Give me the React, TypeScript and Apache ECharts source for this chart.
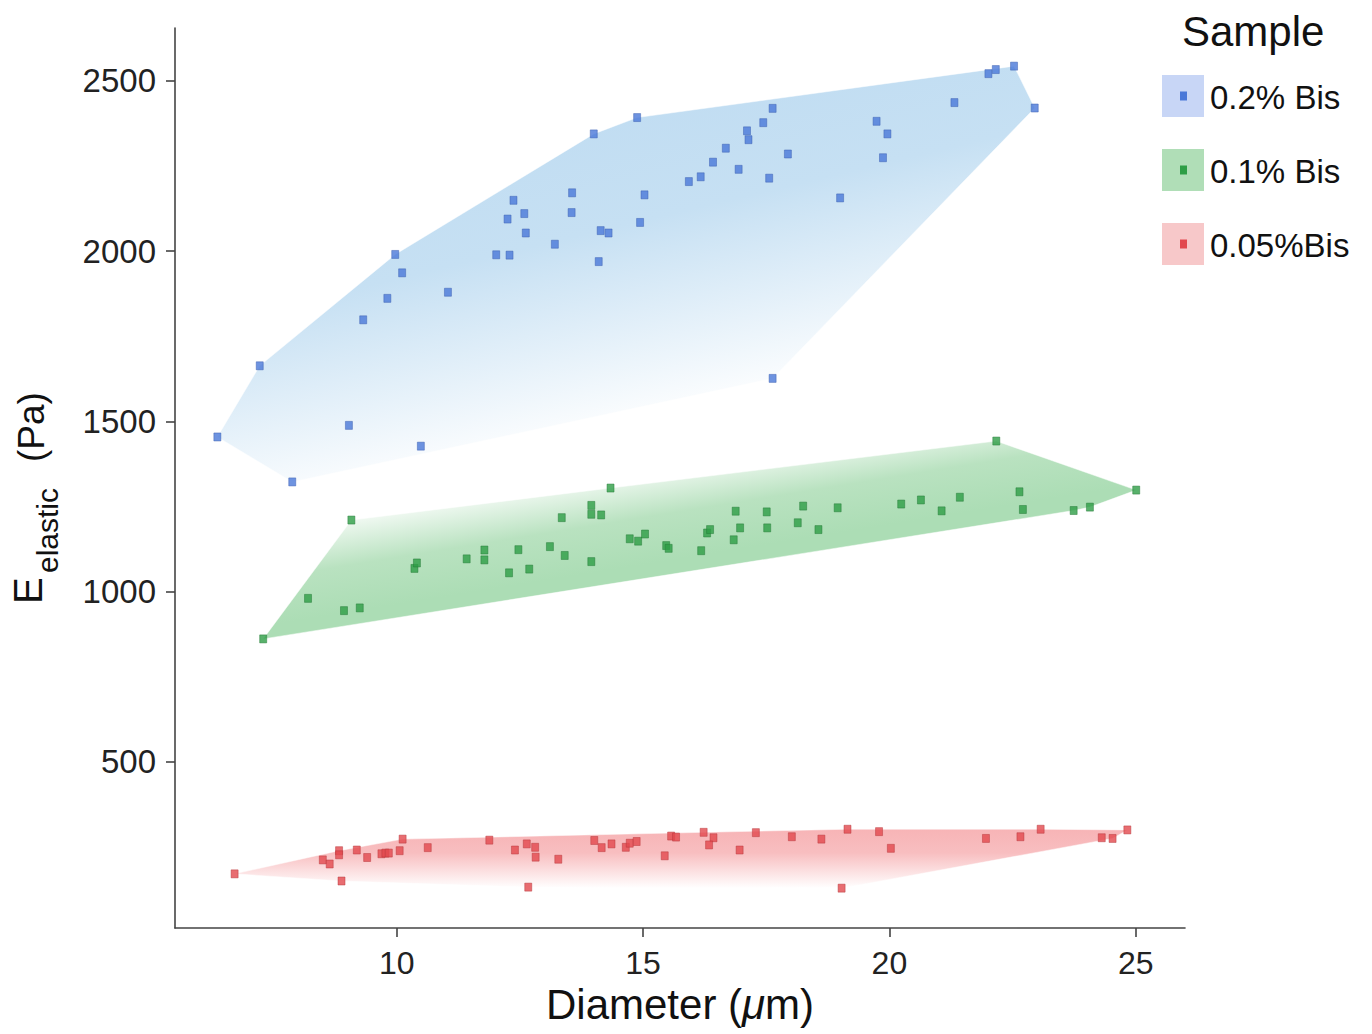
import React, { useEffect, useRef } from "react";
import * as echarts from "echarts";

// ---- data (Diameter µm, E elastic Pa) ----
const bis02: number[][] = [
  [6.36, 1454], [7.22, 1663], [7.88, 1322], [9.03, 1488], [10.49, 1427], [9.32, 1798],
  [9.81, 1861], [10.11, 1936], [9.97, 1990], [11.04, 1879], [12.02, 1989], [12.29, 1988],
  [12.25, 2094], [12.37, 2149], [12.59, 2110], [12.62, 2053], [13.21, 2020], [13.56, 2171],
  [13.55, 2113], [14.0, 2344], [14.1, 1969], [14.14, 2060], [14.3, 2053], [14.88, 2392],
  [15.03, 2165], [14.94, 2084], [15.93, 2204], [16.17, 2218], [16.42, 2261], [16.68, 2302],
  [16.94, 2240], [17.11, 2353], [17.14, 2327], [17.44, 2377], [17.63, 2419], [17.56, 2214],
  [17.94, 2285], [19.0, 2156], [19.74, 2381], [19.96, 2344], [19.87, 2274], [21.32, 2436],
  [22.01, 2521], [22.16, 2533], [22.53, 2543], [22.95, 2420], [17.63, 1626],
];
const bis01: number[][] = [
  [9.08, 1210], [7.29, 861], [8.2, 980], [8.93, 944], [9.25, 952], [10.36, 1068],
  [10.41, 1084], [11.42, 1096], [11.78, 1122], [11.78, 1093], [12.28, 1055], [12.69, 1066],
  [12.47, 1123], [13.11, 1132], [13.41, 1106], [13.35, 1217], [13.95, 1253], [13.95, 1227],
  [14.15, 1225], [14.34, 1304], [13.95, 1088], [14.73, 1155], [14.9, 1148], [15.04, 1169],
  [15.47, 1135], [15.52, 1127], [22.17, 1442], [25.01, 1298], [16.18, 1120], [16.3, 1172],
  [16.36, 1182], [16.84, 1152], [16.88, 1236], [16.97, 1187], [17.51, 1234], [17.52, 1187],
  [18.14, 1202], [18.25, 1251], [18.56, 1182], [18.95, 1246], [20.24, 1257], [20.64, 1269],
  [21.06, 1237], [21.43, 1277], [22.64, 1293], [22.71, 1241], [23.74, 1238], [24.07, 1248],
];
const bis005: number[][] = [
  [6.71, 171], [8.5, 212], [8.64, 200], [8.83, 239], [8.83, 227], [8.88, 150],
  [9.19, 241], [9.4, 219], [9.69, 230], [9.77, 232], [9.84, 232], [10.06, 239],
  [10.12, 273], [10.63, 248], [11.88, 270], [12.4, 241], [12.64, 259], [12.81, 249],
  [12.82, 220], [12.67, 132], [13.28, 214], [14.01, 269], [14.16, 248], [14.36, 259],
  [14.65, 249], [14.73, 261], [14.87, 266], [15.44, 224], [15.57, 282], [15.67, 279],
  [16.23, 293], [16.43, 277], [16.34, 256], [16.96, 241], [17.29, 292], [18.02, 280],
  [18.62, 273], [19.15, 302], [19.03, 129], [19.79, 295], [20.03, 246], [21.96, 275],
  [22.66, 280], [23.07, 302], [24.31, 277], [24.53, 275], [24.83, 300],
];
const seriesNames = ["0.2% Bis", "0.1% Bis", "0.05%Bis"];
const xTicks = [10, 15, 20, 25];
const yTicks = [500, 1000, 1500, 2000, 2500];

const FONT = "'Liberation Sans', Arial, Helvetica, sans-serif";

function convexHull(pts: number[][]): number[][] {
  const p = pts.map((d) => [d[0], d[1]]).sort((a, b) => a[0] - b[0] || a[1] - b[1]);
  const cross = (o: number[], a: number[], b: number[]) =>
    (a[0] - o[0]) * (b[1] - o[1]) - (a[1] - o[1]) * (b[0] - o[0]);
  const lower: number[][] = [];
  for (const q of p) {
    while (lower.length >= 2 && cross(lower[lower.length - 2], lower[lower.length - 1], q) <= 0) lower.pop();
    lower.push(q);
  }
  const upper: number[][] = [];
  for (let i = p.length - 1; i >= 0; i--) {
    const q = p[i];
    while (upper.length >= 2 && cross(upper[upper.length - 2], upper[upper.length - 1], q) <= 0) upper.pop();
    upper.push(q);
  }
  upper.pop();
  lower.pop();
  return lower.concat(upper);
}

export default function App() {
  const ref = useRef<HTMLDivElement>(null);
  useEffect(() => {
    if (!ref.current) return;
    const chart = echarts.init(ref.current, undefined, { renderer: "svg" });

    const groups = [
      {
        data: bis02,
        marker: "#4a78d8",
        border: "#3a5fb0",
        fill: new echarts.graphic.LinearGradient(0.3, 0.2, 0.65, 0.95, [
          { offset: 0, color: "rgb(193,221,242)" },
          { offset: 0.3, color: "rgb(198,224,243)" },
          { offset: 0.85, color: "rgb(255,255,255)" },
          { offset: 1, color: "rgb(255,255,255)" },
        ]),
      },
      {
        data: bis01,
        marker: "#2e9e46",
        border: "#237a36",
        fill: new echarts.graphic.LinearGradient(0.15, 0.3, 0.4, 0.65, [
          { offset: 0, color: "rgb(255,255,255)" },
          { offset: 0.55, color: "rgb(185,226,192)" },
          { offset: 1, color: "rgb(172,221,181)" },
        ]),
      },
      {
        data: bis005,
        marker: "#e2484e",
        border: "#b8373c",
        fill: new echarts.graphic.LinearGradient(0, 0, 0, 1, [
          { offset: 0, color: "rgb(247,180,182)" },
          { offset: 0.4, color: "rgb(248,190,192)" },
          { offset: 1, color: "rgb(255,255,255)" },
        ]),
      },
    ];

    const hullSeries = groups.map((g, i) => {
      const hull = convexHull(g.data);
      return {
        type: "custom",
        name: seriesNames[i] + " hull",
        silent: true,
        z: 1,
        data: hull,
        encode: { x: 0, y: 1 },
        renderItem: (params: any, api: any) => {
          if (params.dataIndex !== 0) return null;
          const points = hull.map((p) => api.coord(p));
          return {
            type: "polygon",
            shape: { points },
            style: { fill: g.fill, stroke: "rgba(255,255,255,0.6)", lineWidth: 0.8 },
          };
        },
      };
    });

    const scatterSeries = groups.map((g, i) => ({
      type: "scatter",
      name: seriesNames[i],
      data: g.data,
      symbol: "rect",
      symbolSize: [7, 8],
      z: 3,
      itemStyle: { color: g.marker, borderColor: g.border, borderWidth: 0.6 },
    }));

    const legendY = [96, 170, 244];
    const legendBox = ["rgb(200,214,246)", "rgb(176,222,183)", "rgb(247,200,201)"];
    const legendGraphics: any[] = [
      {
        type: "text",
        left: 1182,
        top: 10,
        style: { text: "Sample", font: `42px ${FONT}`, fill: "#111" },
      },
    ];
    groups.forEach((g, i) => {
      legendGraphics.push({
        type: "rect",
        shape: { x: 1162, y: legendY[i] - 21, width: 42, height: 42 },
        style: { fill: legendBox[i] },
      });
      legendGraphics.push({
        type: "rect",
        shape: { x: 1180, y: legendY[i] - 4.5, width: 7, height: 9 },
        style: { fill: g.marker },
      });
      legendGraphics.push({
        type: "text",
        x: 1210,
        y: legendY[i] + 1,
        style: {
          text: seriesNames[i],
          font: `33px ${FONT}`,
          fill: "#111",
          verticalAlign: "middle",
          align: "left",
        },
      });
    });
    // y-axis title: E_elastic (Pa), rotated
    legendGraphics.push(
      {
        type: "text",
        x: 28,
        y: 604,
        rotation: Math.PI / 2,
        style: { text: "E", font: `40px ${FONT}`, fill: "#111", align: "left", verticalAlign: "middle" },
      },
      {
        type: "text",
        x: 47,
        y: 573,
        rotation: Math.PI / 2,
        style: { text: "elastic", font: `30px ${FONT}`, fill: "#111", align: "left", verticalAlign: "middle" },
      },
      {
        type: "text",
        x: 31,
        y: 462,
        rotation: Math.PI / 2,
        style: { text: "(Pa)", font: `37px ${FONT}`, fill: "#111", align: "left", verticalAlign: "middle" },
      }
    );

    const axisLineStyle = { color: "#444", width: 1.6 };

    chart.setOption({
      animation: false,
      backgroundColor: "#ffffff",
      grid: {
        left: 175,
        right: 187,
        top: 28,
        bottom: 106,
        containLabel: false,
        outerBoundsMode: "none",
      },
      xAxis: {
        type: "value",
        min: 5.5,
        max: 26,
        name: "Diameter ({i|μ}m)",
        nameLocation: "middle",
        nameGap: 54,
        nameTextStyle: {
          fontFamily: FONT,
          fontSize: 42,
          color: "#111",
          rich: { i: { fontFamily: FONT, fontSize: 42, fontStyle: "italic", color: "#111" } },
        },
        splitLine: { show: false },
        axisLine: { show: true, onZero: false, lineStyle: axisLineStyle },
        axisTick: { show: true, length: 9, lineStyle: axisLineStyle, customValues: xTicks },
        axisLabel: {
          customValues: xTicks,
          margin: 19,
          fontFamily: FONT,
          fontSize: 32,
          color: "#222",
          formatter: (v: number) => String(v),
        },
      },
      yAxis: {
        type: "value",
        min: 12,
        max: 2655,
        splitLine: { show: false },
        axisLine: { show: true, onZero: false, lineStyle: axisLineStyle },
        axisTick: { show: true, length: 9, lineStyle: axisLineStyle, customValues: yTicks },
        axisLabel: {
          customValues: yTicks,
          margin: 19,
          fontFamily: FONT,
          fontSize: 33,
          color: "#222",
          formatter: (v: number) => String(v),
        },
      },
      graphic: legendGraphics,
      series: [...hullSeries, ...scatterSeries],
    } as any);

    return () => chart.dispose();
  }, []);

  return (
    <div
      ref={ref}
      style={{ position: "absolute", left: 0, top: 0, width: 1372, height: 1034, background: "#fff" }}
    />
  );
}
